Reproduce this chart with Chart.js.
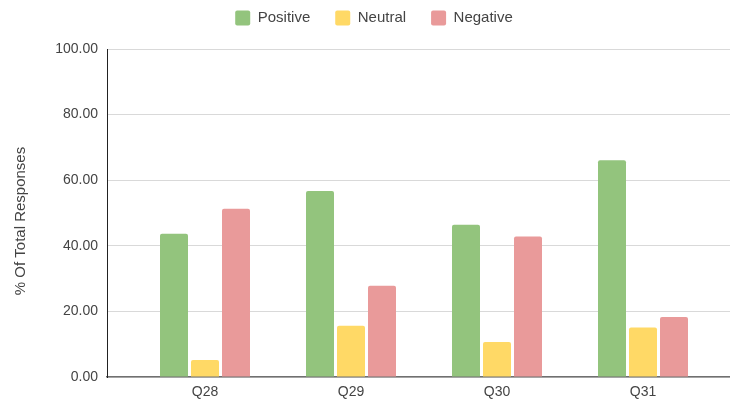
<!DOCTYPE html>
<html>
<head>
<meta charset="utf-8">
<script src="https://cdn.jsdelivr.net/npm/chart.js@4/dist/chart.umd.min.js"></script>
<style>
  html, body { margin: 0; padding: 0; background: #ffffff; }
  #wrap { width: 730px; height: 402px; }
</style>
</head>
<body>
<div id="wrap"><canvas id="c" width="730" height="402"></canvas></div>
<script>
// Survey questions and the share of responses in each sentiment group (%)
const questions = ['Q28', 'Q29', 'Q30', 'Q31'];
const positive  = [43.7, 56.7, 46.4, 66.1];
const neutral   = [5.2, 15.6, 10.7, 15.1];
const negative  = [51.3, 27.8, 42.8, 18.3];
const yTicks    = [0, 20, 40, 60, 80, 100];
const yTitle    = '% Of Total Responses';

const FONT = "'Liberation Sans', Arial, sans-serif";
const TEXT = '#444444';

function points(values) {
  return values.map((v, i) => ({ x: i, y: v }));
}

// Rotated axis caption on the left side
const yCaption = {
  id: 'yCaption',
  afterDraw(chart) {
    const ctx = chart.ctx;
    const area = chart.chartArea;
    ctx.save();
    ctx.translate(20.5, (area.top + area.bottom) / 2 + 8);
    ctx.rotate(-Math.PI / 2);
    ctx.font = '15px ' + FONT;
    ctx.fillStyle = TEXT;
    ctx.textAlign = 'center';
    ctx.textBaseline = 'middle';
    ctx.fillText(yTitle, 0, 0);
    ctx.restore();
  }
};

// Fixed legend band height so the plot starts below it
const legendBand = {
  id: 'legendBand',
  beforeInit(chart) {
    const lg = chart.legend;
    if (lg) {
      const fit = lg.fit;
      lg.fit = function () { fit.call(this); this.height = 63.5; };
    }
  }
};

new Chart(document.getElementById('c'), {
  type: 'bar',
  data: {
    datasets: [
      { label: 'Positive', data: points(positive), backgroundColor: '#93c47d' },
      { label: 'Neutral',  data: points(neutral),  backgroundColor: '#ffd966' },
      { label: 'Negative', data: points(negative), backgroundColor: '#e99a9a' }
    ]
  },
  plugins: [legendBand, yCaption],
  options: {
    responsive: false,
    animation: false,
    devicePixelRatio: 1,
    layout: { padding: { left: 18, top: -14.5, right: 0, bottom: 0 } },
    datasets: {
      bar: {
        categoryPercentage: 0.637,
        barPercentage: 0.903,
        borderRadius: { topLeft: 2, topRight: 2, bottomLeft: 0, bottomRight: 0 },
        borderSkipped: 'bottom'
      }
    },
    plugins: {
      tooltip: { enabled: false },
      legend: {
        position: 'top',
        align: 'center',
        labels: {
          boxWidth: 15,
          boxHeight: 15,
          padding: 25,
          color: TEXT,
          useBorderRadius: true,
          borderRadius: 2,
          font: { family: FONT, size: 15 }
        }
      }
    },
    scales: {
      x: {
        type: 'linear',
        offset: false,
        min: -98 / 146,
        max: -98 / 146 + 623 / 146,
        grid: { display: false, drawTicks: false, offset: false },
        border: { display: true, color: '#707070', width: 1.5 },
        afterBuildTicks(scale) {
          scale.ticks = questions.map((_, i) => ({ value: i }));
        },
        afterFit(scale) { scale.height = 25; },
        ticks: {
          autoSkip: false,
          maxRotation: 0,
          padding: 7,
          color: TEXT,
          font: { family: FONT, size: 14 },
          callback: (v) => questions[v]
        }
      },
      y: {
        min: 0,
        max: 100,
        afterBuildTicks(scale) {
          scale.ticks = yTicks.map(v => ({ value: v }));
        },
        afterFit(scale) { scale.width = 89; },
        grid: { color: '#d9d9d9', lineWidth: 1, drawTicks: false },
        border: { display: true, color: '#222222', width: 1 },
        ticks: {
          padding: 9,
          color: TEXT,
          font: { family: FONT, size: 14 },
          callback: (v) => Number(v).toFixed(2)
        }
      }
    }
  }
});
</script>
</body>
</html>
